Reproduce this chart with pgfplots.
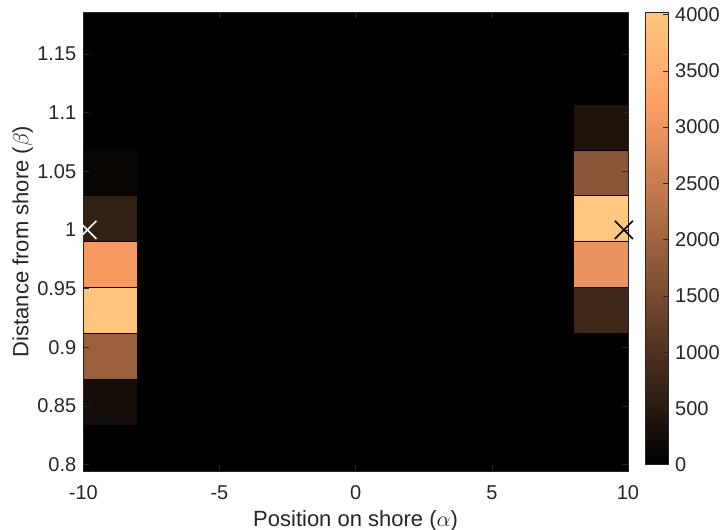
\documentclass[border=0pt]{standalone}
\usepackage{fontspec}
\setmainfont{Liberation Sans}
\usepackage{pgfplots}
\pgfplotsset{compat=1.18}
\usepgfplotslibrary{patchplots}
\begin{document}
\begin{tikzpicture}
\useasboundingbox (0,0) rectangle (361.5pt,265pt);
\begin{axis}[
  at={(41.65pt,29.5pt)}, anchor=south west,
  scale only axis, width=272.35pt, height=229.35pt,
  xmin=-10, xmax=10, ymin=0.7945, ymax=1.1855,
  xtick={-10,-5,0,5,10}, xticklabels={-10,-5,0,5,10},
  ytick={0.8,0.85,0.9,0.95,1,1.05,1.1,1.15},
  yticklabels={0.8,0.85,0.9,0.95,1,1.05,1.1,1.15},
  tick align=inside, major tick length=3pt,
  axis line style={black!85, line width=0.4pt},
  tick style={black!85},
  axis background/.style={fill=black},
  axis on top,
  tick label style={font=\fontsize{10}{12}\selectfont, text=black!85},
  label style={font=\fontsize{11}{13}\selectfont, text=black!85},
  xticklabel style={anchor=base, yshift=-14.5pt},
  xlabel={Position on shore ($\alpha$)},
  ylabel={Distance from shore ($\beta$)},
  xlabel style={at={(axis description cs:0.5,0)}, anchor=base, yshift=-27.5pt},
  ylabel style={at={(axis description cs:-0.101,0.5)}, anchor=base},
  colormap={copper}{rgb(0cm)=(0,0,0) rgb(8cm)=(1,0.625,0.398) rgb(10cm)=(1,0.7812,0.4975)},
  point meta min=0, point meta max=4020,
  colorbar,
  colorbar style={
    scale only axis,
    width=11.5pt, height=226.2pt,
    at={([xshift=9.85pt]parent axis.north east)}, anchor=north west,
    ytick={0,500,1000,1500,2000,2500,3000,3500,4000},
    yticklabels={0,500,1000,1500,2000,2500,3000,3500,4000},
    scaled y ticks=false,
    tick align=inside, major tick length=2.5pt,
    ytick pos=right, yticklabel pos=right,
    axis line style={black!85},
    tick style={black!85},
    yticklabel style={font=\fontsize{10}{12}\selectfont, text=black!85},
  },
]
\addplot[patch, patch type=rectangle, shader=faceted, faceted color=black, line width=0.4pt, point meta=explicit]
table[x=x, y=y, meta=c] {
x y c
-10 0.8336 255
-8 0.8336 255
-8 0.8727 255
-10 0.8727 255
-10 0.8727 1940
-8 0.8727 1940
-8 0.9118 1940
-10 0.9118 1940
-10 0.9118 3960
-8 0.9118 3960
-8 0.9509 3960
-10 0.9509 3960
-10 0.9509 3110
-8 0.9509 3110
-8 0.9900 3110
-10 0.9900 3110
-10 0.9900 640
-8 0.9900 640
-8 1.0291 640
-10 1.0291 640
-10 1.0291 125
-8 1.0291 125
-8 1.0682 125
-10 1.0682 125
8 0.9118 790
10 0.9118 790
10 0.9509 790
8 0.9509 790
8 0.9509 2970
10 0.9509 2970
10 0.9900 2970
8 0.9900 2970
8 0.9900 4020
10 0.9900 4020
10 1.0291 4020
8 1.0291 4020
8 1.0291 1740
10 1.0291 1740
10 1.0682 1740
8 1.0682 1740
8 1.0682 390
10 1.0682 390
10 1.1073 390
8 1.1073 390
};
\addplot[only marks, mark=x, mark size=6.4pt, white, line width=0.8pt] coordinates {(-9.85,1)};
\addplot[only marks, mark=x, mark size=6.4pt, black, line width=0.8pt] coordinates {(9.85,1)};
\end{axis}
\end{tikzpicture}
\end{document}
